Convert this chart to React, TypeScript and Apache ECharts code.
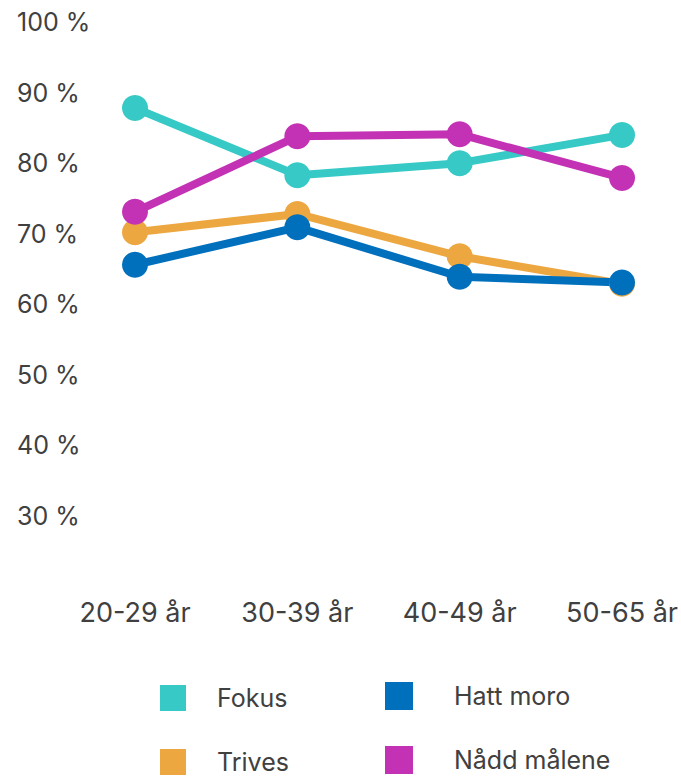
import React, { useEffect, useRef } from "react";
import * as echarts from "echarts";

const categories = ["20-29 år", "30-39 år", "40-49 år", "50-65 år"];
const yTicks = [30, 40, 50, 60, 70, 80, 90, 100];
const fokus = [87.8, 78.3, 80.0, 84.0];
const trives = [70.2, 72.8, 66.8, 62.9];
const hattMoro = [65.6, 70.9, 63.9, 63.1];
const naddMalene = [73.1, 83.8, 84.1, 77.9];

const seriesDefs = [
  { name: "Fokus", data: fokus, color: "#36C9C6" },
  { name: "Trives", data: trives, color: "#EDA741" },
  { name: "Hatt moro", data: hattMoro, color: "#0070BD" },
  { name: "Nådd målene", data: naddMalene, color: "#C332B4" },
];

const FONT = "Inter";
const TEXT = "#404040";

export default function App() {
  const ref = useRef<HTMLDivElement>(null);
  useEffect(() => {
    if (!ref.current) return;
    const chart = echarts.init(ref.current, null, { renderer: "svg" });
    chart.setOption({
      animation: false,
      grid: { left: 135, right: 47, top: 22, bottom: 260, containLabel: false },
      xAxis: {
        type: "category",
        data: categories,
        boundaryGap: false,
        axisLine: { show: false },
        axisTick: { show: false },
        splitLine: { show: false },
        axisLabel: { margin: 83, fontSize: 27, color: TEXT, fontFamily: FONT, hideOverlap: false, interval: 0 },
      },
      yAxis: {
        type: "value",
        min: yTicks[0],
        max: yTicks[yTicks.length - 1],
        interval: 10,
        axisLine: { show: false },
        axisTick: { show: false },
        splitLine: { show: false },
        axisLabel: {
          align: "left",
          margin: 118,
          fontSize: 25,
          color: TEXT,
          fontFamily: FONT,
          formatter: (v: number) => `${v} %`,
        },
      },
      legend: [
        {
          data: ["Fokus", "Trives"],
          orient: "vertical",
          left: 160,
          top: 685,
          height: 200,
          padding: 0,
          icon: "rect",
          itemWidth: 26,
          itemHeight: 26,
          itemGap: 38,
          textStyle: { fontSize: 25, lineHeight: 26, color: TEXT, fontFamily: FONT, padding: [0, 0, 0, 26] },
        },
        {
          data: ["Hatt moro", "Nådd målene"],
          orient: "vertical",
          left: 385,
          top: 682,
          height: 200,
          padding: 0,
          icon: "rect",
          itemWidth: 28,
          itemHeight: 28,
          itemGap: 36,
          textStyle: { fontSize: 25, lineHeight: 28, color: TEXT, fontFamily: FONT, padding: [0, 0, 0, 36] },
        },
      ],
      series: seriesDefs.map((s) => ({
        name: s.name,
        type: "line",
        data: s.data,
        symbol: "circle",
        symbolSize: 26,
        color: s.color,
        lineStyle: { width: 8, color: s.color },
        itemStyle: { color: s.color },
      })),
    });
    return () => chart.dispose();
  }, []);
  return <div ref={ref} style={{ width: 681, height: 776, position: "absolute", left: 0, top: 0 }} />;
}
